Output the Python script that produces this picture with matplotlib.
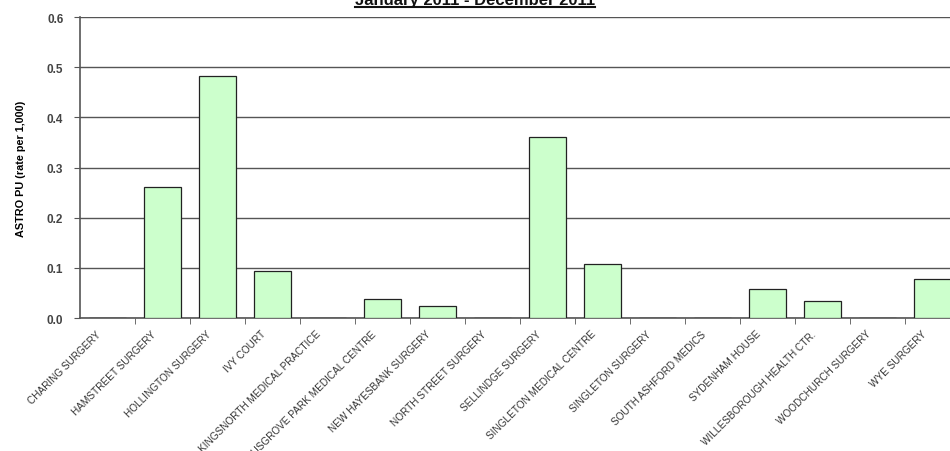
import numpy as np
import matplotlib.pyplot as plt
import matplotlib.transforms as mtransforms
from matplotlib.lines import Line2D

plt.rcParams['font.family'] = ['Liberation Sans', 'DejaVu Sans']

practices = ['CHARING SURGERY', 'HAMSTREET SURGERY', 'HOLLINGTON SURGERY', 'IVY COURT',
             'KINGSNORTH MEDICAL PRACTICE', 'MUSGROVE PARK MEDICAL CENTRE',
             'NEW HAYESBANK SURGERY', 'NORTH STREET SURGERY', 'SELLINDGE SURGERY',
             'SINGLETON MEDICAL CENTRE', 'SINGLETON SURGERY', 'SOUTH ASHFORD MEDICS',
             'SYDENHAM HOUSE', 'WILLESBOROUGH HEALTH CTR.', 'WOODCHURCH SURGERY', 'WYE SURGERY']
rates = [0.0, 0.262, 0.482, 0.093, 0.0, 0.037, 0.024, 0.0, 0.361,
         0.108, 0.0, 0.0, 0.058, 0.034, 0.0, 0.077]
yticks = [0.0, 0.1, 0.2, 0.3, 0.4, 0.5, 0.6]
title = 'January 2011 - December 2011'
ylabel = 'ASTRO PU (rate per 1,000)'


def main():
    fig = plt.figure(figsize=(9.5, 4.52), dpi=100)
    ax = fig.add_axes([0.0842, 0.2942, 0.9263, 0.6658])

    x = np.arange(len(practices))
    ax.bar(x, rates, width=0.67, color='#ccffcc', edgecolor='#222222', linewidth=0.9, zorder=3)

    ax.set_xlim(-0.5, len(practices) - 0.5)
    ax.set_ylim(0, 0.6)
    ax.set_yticks(yticks)
    ax.set_yticklabels(['%.1f' % v for v in yticks], fontsize=8.5, color='#444444', fontweight='bold')
    ax.yaxis.grid(True, color='#555555', linewidth=1.0, zorder=0)
    ax.set_axisbelow(True)

    ax.set_xticks(x)
    ax.set_xticklabels(practices, rotation=45, ha='right', va='center', rotation_mode='anchor',
                       fontsize=7.2, color='#333333')
    ax.tick_params(axis='x', which='major', length=0, pad=10)
    shift = mtransforms.ScaledTranslation(-0.08, 0, fig.dpi_scale_trans)
    for lab in ax.get_xticklabels():
        lab.set_transform(lab.get_transform() + shift)
    ax.set_xticks(np.arange(len(practices)) + 0.5, minor=True)
    ax.tick_params(axis='x', which='minor', length=4, color='#555555', direction='out')
    ax.tick_params(axis='y', length=4, color='#555555', direction='out', pad=8)

    for side in ('top', 'right'):
        ax.spines[side].set_visible(False)
    ax.spines['left'].set_color('#555555')
    ax.spines['left'].set_linewidth(1.2)
    ax.spines['bottom'].set_color('#555555')
    ax.spines['bottom'].set_linewidth(1.2)

    ax.set_ylabel(ylabel, fontsize=7.8, fontweight='bold', labelpad=15)

    t = fig.text(0.5, 1 - 5 / 452, title, ha='center', va='baseline',
                 fontsize=12, fontweight='bold', color='#111111')
    fig.canvas.draw()
    bb = t.get_window_extent().transformed(fig.transFigure.inverted())
    uy = 1 - 8 / 452
    fig.add_artist(Line2D([bb.x0, bb.x1], [uy, uy], transform=fig.transFigure,
                          color='#111111', linewidth=1.5))

    fig.savefig('out.png', dpi=100)


if __name__ == '__main__':
    main()
